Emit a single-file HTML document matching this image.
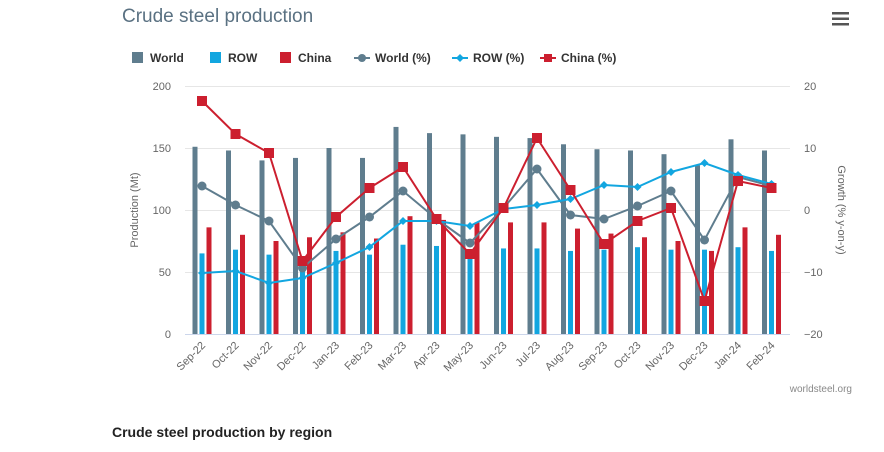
<!DOCTYPE html>
<html><head><meta charset="utf-8"><style>
body{margin:0;background:#fff;width:884px;height:447px;overflow:hidden;font-family:"Liberation Sans",sans-serif}
</style></head><body>
<svg width="884" height="447" xmlns="http://www.w3.org/2000/svg" font-family="Liberation Sans, sans-serif">
<text x="122" y="22" font-size="19" fill="#5a7182">Crude steel production</text>
<g fill="#555"><rect x="832" y="12" width="17" height="2.5"/><rect x="832" y="17.5" width="17" height="2.5"/><rect x="832" y="23" width="17" height="2.5"/></g>
<g font-size="12" font-weight="bold" fill="#333">
<rect x="132" y="52" width="11" height="11" fill="#5f7d8e"/><text x="150" y="62">World</text>
<rect x="210" y="52" width="11" height="11" fill="#12a6e0"/><text x="228" y="62">ROW</text>
<rect x="280" y="52" width="11" height="11" fill="#cc1f2f"/><text x="298" y="62">China</text>
<line x1="354" y1="58" x2="370" y2="58" stroke="#5f7d8e" stroke-width="2"/><circle cx="362" cy="58" r="4" fill="#5f7d8e"/><text x="375" y="62">World (%)</text>
<line x1="452" y1="58" x2="468" y2="58" stroke="#12a6e0" stroke-width="2"/><path d="M460 54l4 4-4 4-4-4z" fill="#12a6e0"/><text x="473" y="62">ROW (%)</text>
<line x1="540" y1="58" x2="556" y2="58" stroke="#cc1f2f" stroke-width="2"/><rect x="544" y="54" width="8" height="8" fill="#cc1f2f"/><text x="561" y="62">China (%)</text>
</g>
<g stroke="#e6e6e6" stroke-width="1"><line x1="185" y1="86.5" x2="790" y2="86.5"/><line x1="185" y1="148.5" x2="790" y2="148.5"/><line x1="185" y1="210.5" x2="790" y2="210.5"/><line x1="185" y1="272.5" x2="790" y2="272.5"/></g>
<line x1="185" y1="334.5" x2="790" y2="334.5" stroke="#ccd6eb"/>
<g font-size="11" fill="#666" text-anchor="end">
<text x="171" y="90">200</text><text x="171" y="152">150</text><text x="171" y="214">100</text><text x="171" y="276">50</text><text x="171" y="338">0</text></g>
<g font-size="11" fill="#666">
<text x="804" y="90">20</text><text x="804" y="152">10</text><text x="804" y="214">0</text><text x="804" y="276">−10</text><text x="804" y="338">−20</text></g>
<text transform="translate(138,210) rotate(-90)" font-size="11" fill="#666" text-anchor="middle">Production (Mt)</text>
<text transform="translate(838,210) rotate(90)" font-size="11" fill="#666" text-anchor="middle">Growth (% y-on-y)</text>
<g id="bars"></g>
<g id="lines"></g>
<g id="xl" font-size="11" fill="#666" text-anchor="end"></g>
<text x="852" y="392" font-size="10" fill="#888" text-anchor="end">worldsteel.org</text>
<text x="112" y="437" font-size="14" font-weight="bold" fill="#222">Crude steel production by region</text>
<script>
var ns="http://www.w3.org/2000/svg";
var labs=["Sep-22","Oct-22","Nov-22","Dec-22","Jan-23","Feb-23","Mar-23","Apr-23","May-23","Jun-23","Jul-23","Aug-23","Sep-23","Oct-23","Nov-23","Dec-23","Jan-24","Feb-24"];
var W=[151,148,140,142,150,142,167,162,161,159,158,153,149,148,145,136,157,148];
var R=[65,68,64,52,67,64,72,71,66,69,69,67,68,70,68,68,70,67];
var C=[86,80,75,78,82,77,95,92,90,90,90,85,81,78,75,67,86,80];
var WP=[186,205,221,268,239,217,191,219,243,208,169,215,219,206,191,240,177,186];
var RP=[273,271,283,278,263,247,221,221,226,209,205,199,185,187,172,163,175,184];
var CP=[101,134,153,261,217,188,167,219,254,208,138,190,244,221,208,301,181,188];
function el(t,a,p){var e=document.createElementNS(ns,t);for(var k in a)e.setAttribute(k,a[k]);(p||document.getElementById("bars")).appendChild(e);return e}
var B=document.getElementById("bars"),L=document.getElementById("lines"),X=document.getElementById("xl");
for(var i=0;i<18;i++){var c=202+i*33.5;
[[W[i],-9.5,"#5f7d8e"],[R[i],-2.5,"#12a6e0"],[C[i],4.5,"#cc1f2f"]].forEach(function(b){var h=b[0]*1.24;el("rect",{x:c+b[1],y:334-h,width:5,height:h,fill:b[2]},B)});
var t=el("text",{transform:"translate("+(c+4)+",346) rotate(-45)"},X);t.textContent=labs[i];}
function line(P,col,m){var d=P.map(function(y,i){return (i?"L":"M")+(202+i*33.5)+" "+y}).join("");
el("path",{d:d,fill:"none",stroke:col,"stroke-width":2},L);
P.forEach(function(y,i){var x=202+i*33.5;
if(m=="c")el("circle",{cx:x,cy:y,r:4.5,fill:col},L);
else if(m=="d")el("path",{d:"M"+x+" "+(y-4)+"l4 4-4 4-4-4z",fill:col},L);
else el("rect",{x:x-5,y:y-5,width:10,height:10,fill:col},L);});}
line(WP,"#5f7d8e","c");line(RP,"#12a6e0","d");line(CP,"#cc1f2f","s");
</script>
</svg>
</body></html>
